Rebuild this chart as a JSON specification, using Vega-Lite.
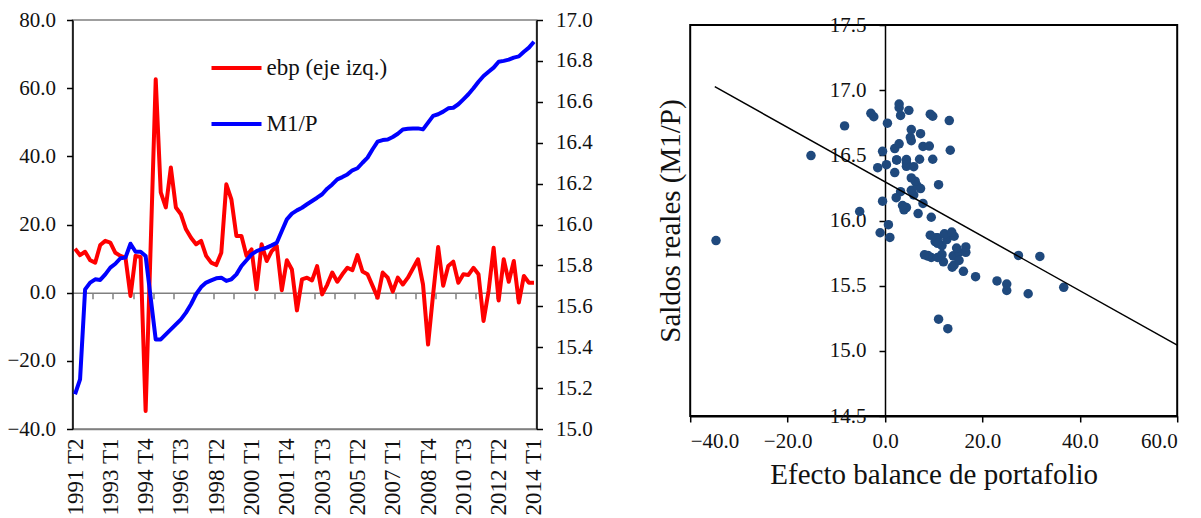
{
  "$schema": "https://vega.github.io/schema/vega-lite/v6.json",
  "background": "white",
  "padding": {"left": 5.5, "top": 8, "right": 0, "bottom": 0},
  "bounds": "flush",
  "spacing": 153.7,
  "config": {
    "font": "Liberation Serif",
    "view": {"stroke": null},
    "style": {"guide-label": {"font": "Liberation Serif"}, "guide-title": {"font": "Liberation Serif"}},
    "axis": {
      "labelFont": "Liberation Serif",
      "labelFontSize": 21,
      "labelColor": "#111111",
      "titleFont": "Liberation Serif",
      "titleFontWeight": "normal",
      "titleColor": "#111111",
      "grid": false,
      "domainColor": "#000000",
      "tickColor": "#000000",
      "tickWidth": 1.5,
      "domainWidth": 1.5
    },
    "legend": {"labelFont": "Liberation Serif"}
  },
  "datasets": {
    "serie": [
      {"periodo": "1991 T2", "ebp": 12.9, "m1p": 15.170},
      {"periodo": "1991 T3", "ebp": 11.0, "m1p": 15.243},
      {"periodo": "1991 T4", "ebp": 12.0, "m1p": 15.683},
      {"periodo": "1992 T1", "ebp": 9.5, "m1p": 15.716},
      {"periodo": "1992 T2", "ebp": 8.8, "m1p": 15.732},
      {"periodo": "1992 T3", "ebp": 14.0, "m1p": 15.729},
      {"periodo": "1992 T4", "ebp": 15.2, "m1p": 15.756},
      {"periodo": "1993 T1", "ebp": 14.7, "m1p": 15.789},
      {"periodo": "1993 T2", "ebp": 11.7, "m1p": 15.808},
      {"periodo": "1993 T3", "ebp": 10.8, "m1p": 15.835},
      {"periodo": "1993 T4", "ebp": 10.3, "m1p": 15.838},
      {"periodo": "1994 T1", "ebp": -1.0, "m1p": 15.906},
      {"periodo": "1994 T2", "ebp": 10.8, "m1p": 15.867},
      {"periodo": "1994 T3", "ebp": 10.5, "m1p": 15.867},
      {"periodo": "1994 T4", "ebp": -34.7, "m1p": 15.846},
      {"periodo": "1995 T1", "ebp": 13.8, "m1p": 15.642},
      {"periodo": "1995 T2", "ebp": 62.6, "m1p": 15.438},
      {"periodo": "1995 T3", "ebp": 29.4, "m1p": 15.438},
      {"periodo": "1995 T4", "ebp": 25.0, "m1p": 15.463},
      {"periodo": "1996 T1", "ebp": 36.7, "m1p": 15.487},
      {"periodo": "1996 T2", "ebp": 25.0, "m1p": 15.512},
      {"periodo": "1996 T3", "ebp": 23.0, "m1p": 15.536},
      {"periodo": "1996 T4", "ebp": 18.6, "m1p": 15.569},
      {"periodo": "1997 T1", "ebp": 16.1, "m1p": 15.610},
      {"periodo": "1997 T2", "ebp": 14.2, "m1p": 15.659},
      {"periodo": "1997 T3", "ebp": 15.2, "m1p": 15.694},
      {"periodo": "1997 T4", "ebp": 10.8, "m1p": 15.716},
      {"periodo": "1998 T1", "ebp": 8.8, "m1p": 15.727},
      {"periodo": "1998 T2", "ebp": 8.1, "m1p": 15.737},
      {"periodo": "1998 T3", "ebp": 11.7, "m1p": 15.740},
      {"periodo": "1998 T4", "ebp": 31.8, "m1p": 15.724},
      {"periodo": "1999 T1", "ebp": 27.4, "m1p": 15.732},
      {"periodo": "1999 T2", "ebp": 16.6, "m1p": 15.756},
      {"periodo": "1999 T3", "ebp": 16.6, "m1p": 15.797},
      {"periodo": "1999 T4", "ebp": 10.8, "m1p": 15.825},
      {"periodo": "2000 T1", "ebp": 12.7, "m1p": 15.854},
      {"periodo": "2000 T2", "ebp": 1.0, "m1p": 15.870},
      {"periodo": "2000 T3", "ebp": 14.2, "m1p": 15.879},
      {"periodo": "2000 T4", "ebp": 9.3, "m1p": 15.887},
      {"periodo": "2001 T1", "ebp": 12.2, "m1p": 15.898},
      {"periodo": "2001 T2", "ebp": 13.7, "m1p": 15.911},
      {"periodo": "2001 T3", "ebp": 0.7, "m1p": 15.968},
      {"periodo": "2001 T4", "ebp": 9.5, "m1p": 16.025},
      {"periodo": "2002 T1", "ebp": 6.8, "m1p": 16.053},
      {"periodo": "2002 T2", "ebp": -5.2, "m1p": 16.069},
      {"periodo": "2002 T3", "ebp": 3.9, "m1p": 16.082},
      {"periodo": "2002 T4", "ebp": 4.4, "m1p": 16.099},
      {"periodo": "2003 T1", "ebp": 3.6, "m1p": 16.115},
      {"periodo": "2003 T2", "ebp": 7.8, "m1p": 16.131},
      {"periodo": "2003 T3", "ebp": -0.5, "m1p": 16.148},
      {"periodo": "2003 T4", "ebp": 2.3, "m1p": 16.175},
      {"periodo": "2004 T1", "ebp": 5.9, "m1p": 16.196},
      {"periodo": "2004 T2", "ebp": 3.2, "m1p": 16.221},
      {"periodo": "2004 T3", "ebp": 5.4, "m1p": 16.232},
      {"periodo": "2004 T4", "ebp": 7.3, "m1p": 16.245},
      {"periodo": "2005 T1", "ebp": 6.6, "m1p": 16.265},
      {"periodo": "2005 T2", "ebp": 11.0, "m1p": 16.275},
      {"periodo": "2005 T3", "ebp": 6.2, "m1p": 16.302},
      {"periodo": "2005 T4", "ebp": 5.4, "m1p": 16.327},
      {"periodo": "2006 T1", "ebp": 2.0, "m1p": 16.368},
      {"periodo": "2006 T2", "ebp": -1.5, "m1p": 16.405},
      {"periodo": "2006 T3", "ebp": 5.9, "m1p": 16.413},
      {"periodo": "2006 T4", "ebp": 4.4, "m1p": 16.416},
      {"periodo": "2007 T1", "ebp": 0.3, "m1p": 16.428},
      {"periodo": "2007 T2", "ebp": 4.4, "m1p": 16.444},
      {"periodo": "2007 T3", "ebp": 2.4, "m1p": 16.465},
      {"periodo": "2007 T4", "ebp": 4.4, "m1p": 16.468},
      {"periodo": "2008 T1", "ebp": 7.1, "m1p": 16.470},
      {"periodo": "2008 T2", "ebp": 9.8, "m1p": 16.470},
      {"periodo": "2008 T3", "ebp": 2.4, "m1p": 16.465},
      {"periodo": "2008 T4", "ebp": -15.2, "m1p": 16.498},
      {"periodo": "2009 T1", "ebp": -0.5, "m1p": 16.531},
      {"periodo": "2009 T2", "ebp": 13.4, "m1p": 16.539},
      {"periodo": "2009 T3", "ebp": 2.0, "m1p": 16.552},
      {"periodo": "2009 T4", "ebp": 7.8, "m1p": 16.568},
      {"periodo": "2010 T1", "ebp": 9.1, "m1p": 16.571},
      {"periodo": "2010 T2", "ebp": 2.9, "m1p": 16.588},
      {"periodo": "2010 T3", "ebp": 5.4, "m1p": 16.612},
      {"periodo": "2010 T4", "ebp": 5.2, "m1p": 16.637},
      {"periodo": "2011 T1", "ebp": 7.3, "m1p": 16.666},
      {"periodo": "2011 T2", "ebp": 5.4, "m1p": 16.698},
      {"periodo": "2011 T3", "ebp": -8.3, "m1p": 16.726},
      {"periodo": "2011 T4", "ebp": 0.5, "m1p": 16.747},
      {"periodo": "2012 T1", "ebp": 13.2, "m1p": 16.767},
      {"periodo": "2012 T2", "ebp": -2.3, "m1p": 16.796},
      {"periodo": "2012 T3", "ebp": 9.8, "m1p": 16.800},
      {"periodo": "2012 T4", "ebp": 3.2, "m1p": 16.806},
      {"periodo": "2013 T1", "ebp": 9.3, "m1p": 16.816},
      {"periodo": "2013 T2", "ebp": -2.9, "m1p": 16.822},
      {"periodo": "2013 T3", "ebp": 4.9, "m1p": 16.845},
      {"periodo": "2013 T4", "ebp": 2.9, "m1p": 16.865},
      {"periodo": "2014 T1", "ebp": 2.9, "m1p": 16.894}
    ],
    "recta": [
      {"ebp": -34.95, "m1p": 17.027},
      {"ebp": 60.0, "m1p": 15.044}
    ]
  },
  "hconcat": [
    {
      "width": 464,
      "height": 409,
      "view": {"stroke": "#808080", "strokeWidth": 1.5},
      "data": {"name": "serie"},
      "layer": [
        {
          "mark": {"type": "line", "strokeWidth": 4, "strokeJoin": "round"},
          "encoding": {
            "x": {
              "field": "periodo", "type": "ordinal", "sort": null,
              "scale": {"type": "point", "padding": 0.5},
              "axis": {
                "orient": "bottom", "title": null, "ticks": false,
                "values": ["1991 T2", "1993 T1", "1994 T4", "1996 T3", "1998 T2", "2000 T1", "2001 T4", "2003 T3", "2005 T2", "2007 T1", "2008 T4", "2010 T3", "2012 T2", "2014 T1"],
                "labelAngle": 270, "labelAlign": "right", "labelBaseline": "middle",
                "labelPadding": 9, "labelFont": "Liberation Serif", "labelFontSize": 23,
                "domainColor": "#808080"
              }
            },
            "y": {
              "field": "ebp", "type": "quantitative",
              "scale": {"domain": [-40, 80], "nice": false, "zero": false},
              "axis": {
                "orient": "left", "title": null, "values": [-40, -20, 0, 20, 40, 60, 80],
                "format": ".1f", "tickSize": 6, "labelPadding": 11,
                "labelFont": "Liberation Serif", "labelFontSize": 21
              }
            },
            "color": {
              "datum": "ebp (eje izq.)", "type": "nominal",
              "scale": {"domain": ["ebp (eje izq.)", "M1/P"], "range": ["#FF0000", "#0000FF"]},
              "legend": {
                "orient": "none", "legendX": 137, "legendY": 21, "title": null,
                "symbolType": "stroke", "symbolSize": 2500, "symbolStrokeWidth": 4,
                "labelFont": "Liberation Serif", "labelFontSize": 23,
                "labelColor": "#111111", "labelOffset": 3,
                "rowPadding": 17, "padding": 0
              }
            }
          }
        },
        {
          "mark": {"type": "line", "strokeWidth": 4, "strokeJoin": "round"},
          "encoding": {
            "x": {
              "field": "periodo", "type": "ordinal", "sort": null,
              "scale": {"type": "point", "padding": 0.5},
              "axis": {
                "orient": "bottom", "title": null, "labels": false, "offset": -136.33,
                "values": ["1992 T1", "1993 T1", "1994 T1", "1995 T1", "1996 T1", "1997 T1", "1998 T1", "1999 T1", "2000 T1", "2001 T1", "2002 T1", "2003 T1", "2004 T1", "2005 T1", "2006 T1", "2007 T1", "2008 T1", "2009 T1", "2010 T1", "2011 T1", "2012 T1", "2013 T1"],
                "tickOffset": 2.52, "tickSize": 6, "tickColor": "#808080", "domainColor": "#808080"
              }
            },
            "y": {
              "field": "m1p", "type": "quantitative",
              "scale": {"domain": [15, 17], "nice": false, "zero": false},
              "axis": {
                "orient": "right", "title": null,
                "values": [15, 15.2, 15.4, 15.6, 15.8, 16, 16.2, 16.4, 16.6, 16.8, 17],
                "format": ".1f", "tickSize": 6, "labelPadding": 13,
                "labelFont": "Liberation Serif", "labelFontSize": 21
              }
            },
            "color": {"datum": "M1/P", "type": "nominal"}
          }
        }
      ],
      "resolve": {"scale": {"y": "independent"}, "axis": {"x": "independent", "y": "independent"}}
    },
    {
      "bounds": "flush",
      "spacing": 0,
      "vconcat": [
        {
          "width": 487,
          "height": 4.3,
          "data": {"values": []},
          "mark": {"type": "point", "opacity": 0}
        },
        {
          "width": 487,
          "height": 391,
          "view": {"stroke": "#000000", "strokeWidth": 2},
          "layer": [
            {
              "data": {"name": "serie"},
              "mark": {"type": "circle", "size": 90, "color": "#1F497D", "opacity": 1, "clip": true},
              "encoding": {
                "x": {
                  "field": "ebp", "type": "quantitative",
                  "scale": {"domain": [-40, 60], "nice": false, "zero": false},
                  "axis": {
                    "values": [-40, -20, 0, 20, 40, 60], "format": ".1f", "tickSize": 6,
                    "labelPadding": 8, "labelFont": "Liberation Serif", "labelFontSize": 21,
                    "title": "Efecto balance de portafolio", "titleFont": "Liberation Serif",
                    "titleFontSize": 29, "titlePadding": 9, "domainWidth": 2
                  }
                },
                "y": {
                  "field": "m1p", "type": "quantitative",
                  "scale": {"domain": [14.5, 17.5], "nice": false, "zero": false},
                  "axis": {
                    "values": [14.5, 15, 15.5, 16, 16.5, 17, 17.5], "format": ".1f",
                    "offset": -194.8, "tickSize": 6, "labelPadding": 13,
                    "labelFont": "Liberation Serif", "labelFontSize": 21,
                    "title": "Saldos reales (M1/P)", "titleFont": "Liberation Serif",
                    "titleFontSize": 29, "titleX": -199.5, "titleY": 195.5
                  }
                }
              }
            },
            {
              "data": {"name": "recta"},
              "mark": {"type": "line", "color": "#000000", "strokeWidth": 1.5},
              "encoding": {
                "x": {"field": "ebp", "type": "quantitative"},
                "y": {"field": "m1p", "type": "quantitative"}
              }
            }
          ]
        }
      ]
    }
  ]
}
